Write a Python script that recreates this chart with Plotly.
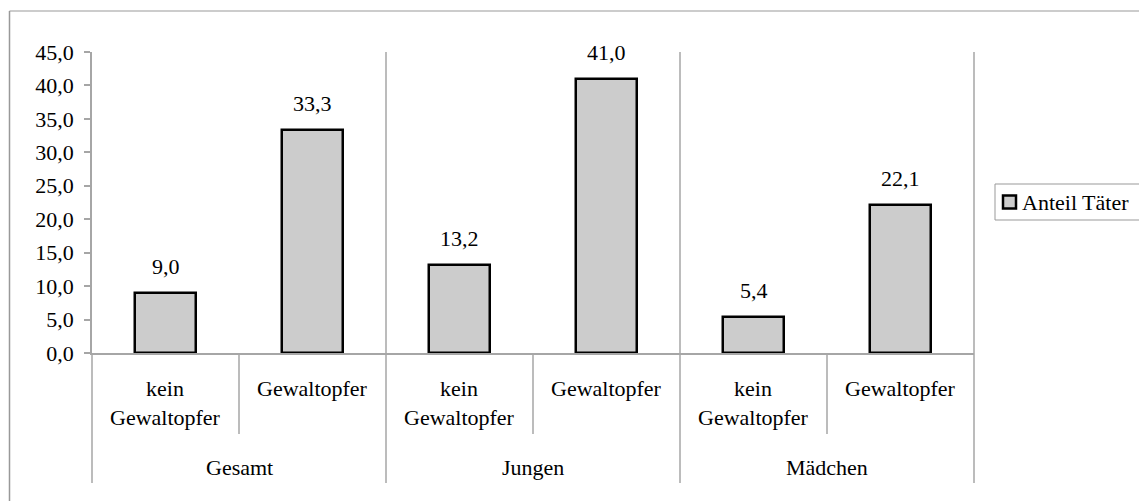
import plotly.graph_objects as go

groups = ["Gesamt", "Jungen", "Mädchen"]
subcats = ["kein<br>Gewaltopfer", "Gewaltopfer"]
values = [9.0, 33.3, 13.2, 41.0, 5.4, 22.1]
series_name = "Anteil Täter"
y_ticks = [0, 5, 10, 15, 20, 25, 30, 35, 40, 45]

OFF = 8  # page body margin
W, H = 1147 - OFF, 501 - OFF
PL, PR, PT, PB = 92, 974, 52, 353  # plot area in page pixels
L, R, T, B = PL - OFF, W - (PR - OFF), PT - OFF, H - (PB - OFF)
pw, ph = PR - PL, PB - PT
FONT = "Liberation Serif"
FS = 22
GRAY = "#a6a6a6"
BAR_FILL = "#cccccc"

def py(pix):  # page pixel y -> paper y
    return (PB - pix) / ph

def px(pix):
    return (pix - PL) / pw

n = len(values)
xs = [i + 0.5 for i in range(n)]

fig = go.Figure()
fig.add_trace(go.Bar(
    x=xs, y=values, width=0.41, name=series_name,
    marker=dict(color=BAR_FILL, line=dict(color="black", width=2.5)),
    showlegend=False,
))

annotations = []
for x, v in zip(xs, values):
    annotations.append(dict(x=x, y=v, xref="x", yref="y", text=f"{v:.1f}".replace(".", ","),
                            showarrow=False, yanchor="bottom", yshift=12,
                            font=dict(family=FONT, size=FS, color="black")))
for gi, g in enumerate(groups):
    for si, s in enumerate(subcats):
        xi = gi * len(subcats) + si + 0.5
        yy = py(403) if "<br>" in s else py(388)
        annotations.append(dict(x=xi, y=yy, xref="x", yref="paper", text=s, showarrow=False,
                                yanchor="middle", font=dict(family=FONT, size=FS, color="black")))
    annotations.append(dict(x=gi * len(subcats) + len(subcats) / 2, y=py(467), xref="x", yref="paper",
                            text=g, showarrow=False, yanchor="middle",
                            font=dict(family=FONT, size=FS, color="black")))
# legend text
annotations.append(dict(x=px(1020), y=py(202), xref="paper", yref="paper", text=series_name,
                        showarrow=False, xanchor="left", yanchor="middle",
                        font=dict(family=FONT, size=FS, color="black")))

shapes = []
for k in range(0, n + 1, len(subcats)):
    shapes.append(dict(type="line", xref="paper", yref="paper", x0=k / n, x1=k / n,
                       y0=1 if k > 0 else 0, y1=py(483), line=dict(color=GRAY, width=1.5)))
for k in range(1, n, len(subcats)):
    shapes.append(dict(type="line", xref="paper", yref="paper", x0=k / n, x1=k / n,
                       y0=0, y1=py(434), line=dict(color=GRAY, width=1.5)))
shapes.append(dict(type="line", xref="paper", yref="paper", x0=px(9.5), x1=px(1147),
                   y0=py(11), y1=py(11), line=dict(color="#bbbbbb", width=1.5)))
shapes.append(dict(type="line", xref="paper", yref="paper", x0=px(9.5), x1=px(9.5),
                   y0=py(11), y1=py(501), line=dict(color="#999999", width=1.5)))
# legend box and symbol
shapes.append(dict(type="rect", xref="paper", yref="paper", x0=px(995), x1=px(1145),
                   y0=py(184), y1=py(220), line=dict(color="#999999", width=1), fillcolor="white"))
shapes.append(dict(type="rect", xref="paper", yref="paper", x0=px(1003), x1=px(1016),
                   y0=py(195.5), y1=py(208.5), line=dict(color="black", width=2.5), fillcolor=BAR_FILL))

fig.update_layout(
    width=W, height=H,
    margin=dict(l=L, r=R, t=T, b=B, autoexpand=False),
    paper_bgcolor="white", plot_bgcolor="white",
    separators=",.",
    showlegend=False,
    font=dict(family=FONT, size=FS, color="black"),
    xaxis=dict(range=[0, n], showticklabels=False, showgrid=False, zeroline=False,
               showline=True, linecolor=GRAY, linewidth=1.5, ticks="", fixedrange=True),
    yaxis=dict(range=[0, 45], tickvals=y_ticks, tickformat=".1f", showgrid=False, zeroline=False,
               showline=True, linecolor=GRAY, linewidth=1.5, ticks="outside", ticklen=6,
               tickcolor=GRAY, tickwidth=1.5, ticklabelstandoff=6,
               tickfont=dict(family=FONT, size=FS, color="black")),
    annotations=annotations, shapes=shapes,
    bargap=0,
)

fig.write_html("out.html")
